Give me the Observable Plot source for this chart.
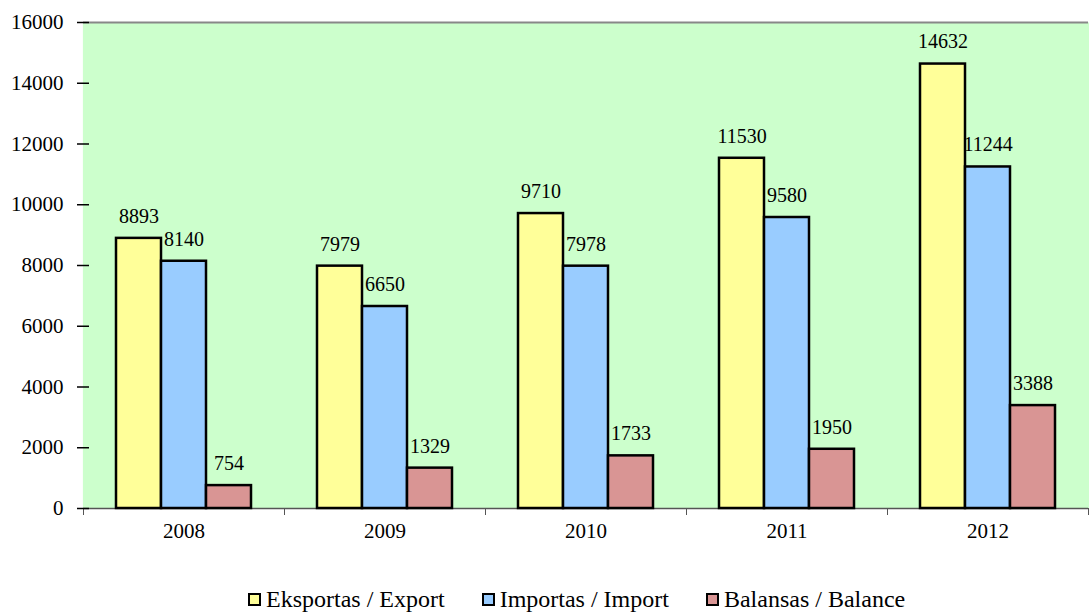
<!DOCTYPE html>
<html><head><meta charset="utf-8">
<script src="https://cdn.jsdelivr.net/npm/d3@7"></script>
<script src="https://cdn.jsdelivr.net/npm/@observablehq/plot@0.6"></script>
<style>
body{margin:0;background:#fff;font-family:'Liberation Serif',serif;}
#wrap{position:relative;width:1089px;height:612px;overflow:hidden;}
#legend{position:absolute;left:248px;top:585px;display:flex;font-family:'Liberation Serif',serif;font-size:24px;line-height:28px;color:#000;white-space:nowrap;}
.item{display:flex;align-items:center;margin-right:37px;}
.sw{width:9px;height:9px;border:2px solid #000;margin-right:5px;margin-top:1px;}
</style>
</head><body>
<div id="wrap"><div id="chart"></div><div id="legend"></div></div>
<script>
const years = ["2008","2009","2010","2011","2012"];
const series = ["Eksportas / Export","Importas / Import","Balansas / Balance"];
const exportVals = [8893,7979,9710,11530,14632];
const importVals = [8140,6650,7978,9580,11244];
const balanceVals = [754,1329,1733,1950,3388];
const colors = ["#FFFF99","#99CCFF","#D99594"];
const yTicks = [0,2000,4000,6000,8000,10000,12000,14000,16000];

const W = 1089, H = 560, mTop = 22, mBottom = 52, mLeft = 82, mRight = 0;
const plotH = H - mTop - mBottom;

const seriesVals = [exportVals, importVals, balanceVals];
const data = [];
years.forEach((y, i) => series.forEach((s, j) => data.push({year: y, series: s, value: seriesVals[j][i]})));

const chart = Plot.plot({
  width: W, height: H,
  marginTop: mTop, marginBottom: mBottom, marginLeft: mLeft, marginRight: mRight,
  style: "font-family:'Liberation Serif',serif;font-size:20px;color:#000;background:transparent;",
  fx: {domain: years, padding: 0, axis: null, label: null},
  x: {domain: series, axis: null, paddingInner: 0, paddingOuter: 0.72},
  y: {domain: [0, 16000], axis: null},
  color: {domain: series, range: colors},
  marks: [
    Plot.frame({fill: "#CCFFCC", stroke: null, insetLeft: -0.6, insetRight: -0.6}),
    Plot.ruleY([16000], {stroke: "#888", strokeWidth: 2}),
    Plot.ruleY([0], {stroke: "#555", strokeWidth: 1.5}),
    Plot.frame({anchor: "left", stroke: "#555", insetTop: plotH, insetBottom: -6}),
    Plot.frame({anchor: "right", stroke: "#555", insetTop: plotH, insetBottom: -6}),
    Plot.barY(data, {fx: "year", x: "series", y: "value", fill: "series", stroke: "#000", strokeWidth: 2.5}),
    Plot.text(data, {fx: "year", x: "series", y: "value", text: d => String(d.value), dy: -22, fontSize: 20, fill: "#000"}),
    Plot.axisY({ticks: yTicks, tickSize: 6, tickPadding: 14, line: true, label: null, tickFormat: d => String(d), fontSize: 21, fontVariant: "normal", strokeWidth: 1.5}),
    Plot.axisY({ticks: yTicks, tickSize: 6, dx: 6, tickFormat: () => "", label: null, strokeWidth: 1.5}),
    Plot.axisFx({anchor: "bottom", tickSize: 0, tickPadding: 15, label: null, fontSize: 21})
  ]
});
document.getElementById("chart").appendChild(chart);

const legend = document.getElementById("legend");
series.forEach((s, i) => {
  const it = document.createElement("div");
  it.className = "item";
  const sw = document.createElement("div");
  sw.className = "sw";
  sw.style.background = colors[i];
  const t = document.createElement("span");
  t.textContent = s;
  it.appendChild(sw); it.appendChild(t);
  legend.appendChild(it);
});
</script>
</body></html>
